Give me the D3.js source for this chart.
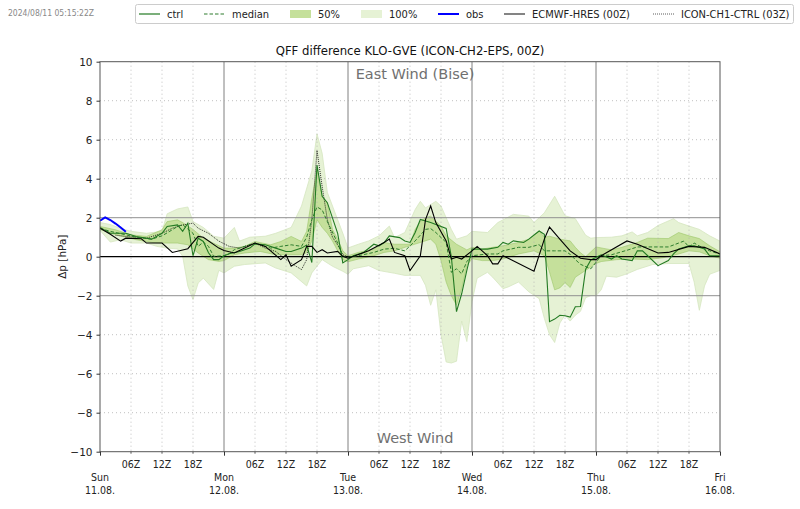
<!DOCTYPE html>
<html><head><meta charset="utf-8">
<script src="https://cdn.jsdelivr.net/npm/d3@7/dist/d3.min.js"></script>
<style>body{margin:0;background:#fff}</style>
</head><body>
<svg id="c" width="800" height="509"></svg>
<script>
// ---------- data ----------
const hourDomain = [0, 120];
const yDomain = [-10, 10];
const yTicks = [-10, -8, -6, -4, -2, 0, 2, 4, 6, 8, 10];
const dayTicks = [0, 24, 48, 72, 96, 120];
const dayNames = ["Sun", "Mon", "Tue", "Wed", "Thu", "Fri"];
const dayDates = ["11.08.", "12.08.", "13.08.", "14.08.", "15.08.", "16.08."];
const hourNames = ["06Z", "12Z", "18Z"];
const timestamp = "2024/08/11 05:15:22Z";
const title = "QFF difference KLO-GVE (ICON-CH2-EPS, 00Z)";

const obs = [[0,1.85],[1,2.02],[2,1.88],[3,1.7],[4,1.5],[5,1.28]];

const ensMax = [[0,1.75],[2,1.65],[4,1.45],[6,1.3],[9,1.2],[12,1.3],[13,2.2],[15,2.45],[17,2.55],[18,1.8],[20,1.5],[22,1.05],[24,0.95],[26,1.5],[27,0.8],[29,1.0],[32,1.05],[34,1.2],[37,1.5],[39,2.6],[41,4.4],[42,6.3],[43,5.3],[44,3.3],[46,1.9],[47,1.2],[48,0.45],[50,0.64],[52,0.81],[54,1.07],[56,1.57],[57,0.98],[59,1.24],[61,2.42],[62,2.84],[63,2.5],[65,2.84],[66,2.6],[68,1.4],[69,0.9],[71,1.07],[72,1.3],[75,1.24],[77,1.75],[80,2.17],[83,2.08],[84,1.75],[86,2.25],[88,3.1],[89,2.6],[90,2.1],[92,1.95],[94,1.1],[95,0.95],[96,0.98],[99,1.0],[101,1.07],[103,1.27],[104,1.07],[106,1.24],[108,1.6],[111,1.95],[112,1.75],[114,1.57],[116,1.4],[118,1.07],[120,0.8]];

const ensMin = [[0,1.35],[2,0.75],[4,0.87],[6,0.7],[9,0.7],[11,0.53],[13,0.44],[15,0.4],[16,0.02],[17,-1.5],[18,-2.2],[19,-1.35],[20,-1.1],[22,-1.68],[23,-0.7],[24,-0.83],[26,-0.49],[28,-0.4],[32,-0.32],[34,-0.58],[37,-0.83],[40,-1.5],[41,-0.83],[43,-0.15],[45,-0.49],[47,-0.75],[48,-0.9],[49,-0.62],[52,-0.46],[54,-0.71],[57,-0.85],[59,-0.96],[62,-0.96],[63,-1.47],[64,-2.49],[65,-1.7],[66,-4.0],[67,-5.4],[68,-5.45],[69,-5.36],[70,-3.3],[71,-4.35],[72,-2.3],[73,-1.1],[75,-0.8],[76,-1.05],[78,-1.64],[79,-1.55],[81,-1.3],[83,-1.8],[85,-2.15],[86,-3.16],[87,-4.0],[88,-4.4],[89,-3.4],[90,-3.0],[91,-3.3],[92,-3.0],[93,-2.8],[94,-2.1],[95,-2.0],[96,-2.0],[97,-1.7],[98,-1.0],[100,-1.05],[102,-0.88],[104,-0.65],[107,-0.4],[110,-0.35],[114,-0.35],[115,-1.3],[116,-2.75],[117,-1.5],[118,-0.9],[120,-0.7]];

const ensP75 = [[0,1.55],[3,1.38],[6,1.12],[9,1.04],[12,1.38],[13,1.8],[15,1.89],[16,1.75],[18,1.4],[20,0.95],[22,0.69],[24,0.44],[26,0.44],[28,0.53],[30,0.78],[33,0.61],[35,0.78],[37,1.04],[39,0.78],[40,1.3],[41,3.0],[42,4.4],[43,3.1],[44,2.75],[45,1.4],[46,0.9],[47,0.3],[48,0.05],[50,0.22],[53,0.39],[55,0.73],[57,0.64],[60,0.64],[61,1.4],[62,1.8],[63,2.0],[64,2.08],[66,1.57],[67,1.07],[69,0.64],[71,0.35],[72,0.48],[74,0.39],[76,0.48],[78,0.56],[81,0.73],[83,0.9],[85,1.32],[86,1.0],[87,1.05],[89,0.9],[91,0.81],[92,0.48],[93,0.2],[94,0.0],[96,0.5],[99,0.35],[101,0.48],[104,0.73],[106,0.95],[110,0.93],[112,1.24],[114,1.07],[116,0.93],[118,0.56],[120,0.25]];

const ensP25 = [[0,1.4],[2,1.2],[5,1.0],[7,0.87],[10,0.73],[12,0.7],[15,0.7],[17,0.61],[19,0.19],[21,-0.15],[23,-0.24],[24,-0.2],[26,0.1],[28,0.19],[31,0.27],[34,0.1],[39,0.1],[40,0.2],[41,0.8],[42,1.9],[43,1.5],[44,1.2],[45,0.8],[46,0.3],[47,-0.15],[48,-0.26],[50,-0.12],[53,0.05],[55,0.22],[57,0.3],[59,0.48],[62,0.73],[64,0.9],[65,0.64],[66,-0.2],[67,-1.3],[68,-2.0],[69,-2.49],[70,-1.64],[71,-0.46],[72,-0.1],[74,-0.2],[76,-0.2],[78,-0.12],[81,0.14],[84,0.3],[86,0.05],[87,-0.79],[88,-1.7],[89,-1.6],[90,-1.33],[91,-1.58],[92,-1.05],[94,-0.7],[96,-0.35],[97,-0.25],[100,-0.15],[103,-0.12],[106,-0.15],[109,-0.05],[112,0.14],[114,0.3],[116,0.25],[118,0.05],[120,-0.08]];

const median = [[0,1.45],[2,1.3],[5,1.12],[7,1.0],[10,0.9],[12,1.07],[14,1.38],[15,1.55],[16,1.64],[18,1.2],[19,0.53],[20,0.75],[21,0.53],[22,0.02],[24,0.05],[25,0.15],[26,0.36],[29,0.61],[30,0.7],[33,0.44],[35,0.53],[37,0.61],[39,0.53],[40,1.0],[41,1.9],[42,2.55],[43,2.4],[44,1.8],[46,0.7],[47,0.02],[48,-0.03],[50,0.05],[53,0.22],[55,0.39],[57,0.43],[59,0.3],[61,0.81],[63,1.4],[64,1.44],[65,1.24],[67,0.73],[68,-0.8],[69,-0.62],[70,-0.88],[71,-0.25],[72,0.05],[75,0.14],[77,0.14],[78,0.3],[81,0.48],[83,0.48],[85,0.62],[86,0.3],[88,0.3],[90,0.3],[91,0.12],[92,-0.15],[93,-0.39],[95,-0.62],[97,0.05],[99,0.1],[102,0.33],[104,0.5],[107,0.5],[110,0.5],[112,0.7],[113,0.8],[114,0.5],[115,0.7],[116,0.55],[118,0.3],[120,0.13]];

const ctrl = [[0,1.5],[1,1.35],[2,1.2],[5,1.2],[7,1.04],[10,0.9],[12,1.2],[13,1.55],[15,1.63],[16,1.3],[17,1.72],[18,0.05],[19,0.95],[20,0.78],[21,0.2],[22,-0.15],[23,-0.15],[24,0.05],[25,0.15],[27,0.27],[29,0.44],[30,0.66],[32,0.61],[34,0.44],[36,0.27],[37,0.27],[39,0.44],[40,0.6],[41,-0.3],[42,4.7],[43,3.1],[44,2.77],[46,1.2],[47,-0.32],[48,-0.15],[49,0.05],[51,0.22],[53,0.64],[54,0.56],[55,0.73],[56,1.07],[58,0.98],[59,0.81],[60,0.73],[61,1.24],[62,1.91],[64,1.75],[67,1.45],[68,0.0],[69,-2.82],[70,-1.9],[71,-0.7],[72,0.39],[75,0.39],[77,0.48],[78,0.73],[79,0.64],[80,0.81],[82,0.73],[83,0.9],[85,1.32],[86,1.15],[87,-3.33],[88,-3.2],[89,-3.0],[90,-3.03],[91,-3.1],[92,-2.57],[93,-2.55],[94,-0.64],[95,-0.17],[97,0.1],[99,-0.12],[100,0.05],[101,-0.12],[103,-0.2],[104,0.3],[105,0.3],[106,0.05],[108,-0.46],[110,-0.2],[111,0.14],[112,0.39],[114,0.56],[115,0.56],[117,0.39],[118,0.05],[120,0.05]];

const hres = [[0,1.46],[2,1.15],[4,0.8],[5,0.95],[8,0.92],[9,0.7],[12,0.7],[14,0.22],[17,0.41],[19,1.04],[20,1.0],[23,0.44],[24,0.32],[26,0.19],[28,0.44],[30,0.7],[32,0.53],[35,-0.15],[36,0.1],[37,-0.49],[39,-0.15],[40,0.53],[41,0.53],[42,0.22],[43,0.36],[44,0.19],[46,0.27],[47,0.02],[48,-0.08],[52,0.3],[55,0.73],[56,0.9],[57,0.22],[59,0.05],[60,-0.71],[62,0.05],[63,1.9],[64,2.6],[65,1.75],[67,0.81],[68,-0.12],[69,-0.03],[70,-0.12],[72,0.3],[73,0.53],[75,0.05],[76,-0.37],[77,-0.37],[78,0.05],[84,-0.74],[86,0.9],[87,1.52],[89,0.9],[91,0.3],[93,-0.08],[95,-0.15],[96,-0.15],[97,0.05],[102,0.81],[104,0.64],[108,0.19],[110,0.22],[114,0.53],[117,0.48],[120,0.14]];

const ch1 = [[3,1.1],[5,1.04],[9,0.95],[12,1.2],[14,1.46],[16,1.63],[18,1.72],[19,1.46],[21,1.2],[23,0.8],[25,0.53],[27,0.44],[30,0.7],[32,0.44],[34,0.27],[36,-0.15],[38,-0.5],[39,-0.66],[40,-0.15],[41,1.9],[42,5.45],[43,3.6],[44,1.9],[45,1.0],[46,0.6],[47,0.1],[48,0.0]];

const legendItems = ["ctrl","median","50%","100%","obs","ECMWF-HRES (00Z)","ICON-CH1-CTRL (03Z)"];

// ---------- drawing ----------
const COND = "'DejaVu Sans Condensed','DejaVu Sans',sans-serif";
const REG = "'DejaVu Sans',sans-serif";
const C = {ctrl:"#237a23", median:"#2e7d2e", p50:"#c5e09b", p100:"#e6f2d5", obs:"#0000ff", hres:"#000", ch1:"#000"};

const svg = d3.select("#c");
svg.append("rect").attr("width",800).attr("height",509).attr("fill","#fff");
const L = 100, R = 720, T = 61.7, B = 451.7;
const x = d3.scaleLinear().domain(hourDomain).range([L, R]);
const y = d3.scaleLinear().domain(yDomain).range([B, T]);

const g = svg.append("g");
const clip = svg.append("clipPath").attr("id","pc").append("rect").attr("x",L).attr("y",T).attr("width",R-L).attr("height",B-T);

const line = d3.line().x(d=>x(d[0])).y(d=>y(d[1]));
function band(up, lo){ return line(up.concat(lo.slice().reverse())) + "Z"; }

const pg = g.append("g").attr("clip-path","url(#pc)");
pg.append("path").attr("d", band(ensMax, ensMin)).attr("fill", C.p100).attr("stroke","#d5e6c0").attr("stroke-width",0.8);
pg.append("path").attr("d", band(ensP75, ensP25)).attr("fill", C.p50).attr("stroke","#9cc66a").attr("stroke-width",0.6);

// grid
const sixH = d3.range(6, 120, 6).filter(h => h % 24 !== 0);
pg.selectAll(".vg").data(sixH).join("line").attr("x1",d=>x(d)).attr("x2",d=>x(d)).attr("y1",T).attr("y2",B)
  .attr("stroke","#b0b0b0").attr("stroke-width",0.8).attr("stroke-dasharray","1,3");
pg.selectAll(".vd").data(dayTicks.slice(1,-1)).join("line").attr("x1",d=>x(d)).attr("x2",d=>x(d)).attr("y1",T).attr("y2",B)
  .attr("stroke","#808080").attr("stroke-width",1);
pg.selectAll(".hg").data(yTicks.filter(v=>Math.abs(v)>2 && Math.abs(v)<10)).join("line").attr("x1",L).attr("x2",R).attr("y1",d=>y(d)).attr("y2",d=>y(d))
  .attr("stroke","#b0b0b0").attr("stroke-width",0.8).attr("stroke-dasharray","1,3");
pg.selectAll(".hs").data([-2,2]).join("line").attr("x1",L).attr("x2",R).attr("y1",d=>y(d)).attr("y2",d=>y(d))
  .attr("stroke","#909090").attr("stroke-width",1);

// wind labels
g.append("text").attr("x",415).attr("y",79).attr("text-anchor","middle").attr("font-family",REG).attr("font-size",14.5).attr("fill","#707070").text("East Wind (Bise)");
g.append("text").attr("x",415).attr("y",443).attr("text-anchor","middle").attr("font-family",REG).attr("font-size",14.5).attr("fill","#707070").text("West Wind");

// zero line
pg.append("line").attr("x1",L).attr("x2",R).attr("y1",y(0)).attr("y2",y(0)).attr("stroke","#000").attr("stroke-width",1.3);

// lines
pg.append("path").attr("d",line(ch1)).attr("fill","none").attr("stroke",C.ch1).attr("stroke-width",0.8).attr("stroke-dasharray","1,1");
pg.append("path").attr("d",line(median)).attr("fill","none").attr("stroke",C.median).attr("stroke-width",1).attr("stroke-dasharray","3.5,2");
pg.append("path").attr("d",line(ctrl)).attr("fill","none").attr("stroke",C.ctrl).attr("stroke-width",1.1);
pg.append("path").attr("d",line(hres)).attr("fill","none").attr("stroke",C.hres).attr("stroke-width",1.1);
pg.append("path").attr("d",line(obs)).attr("fill","none").attr("stroke",C.obs).attr("stroke-width",2);

// frame
g.append("rect").attr("x",L).attr("y",T).attr("width",R-L).attr("height",B-T).attr("fill","none").attr("stroke","#555").attr("stroke-width",1);

// y axis
const yAx = g.append("g").attr("transform",`translate(${L},0)`).call(d3.axisLeft(y).tickValues(yTicks).tickSize(3.5).tickFormat(d=>d<0?"\u2212"+Math.abs(d):d));
yAx.select(".domain").remove();
yAx.selectAll(".tick line").attr("stroke","#333");
yAx.selectAll("text").attr("font-family",REG).attr("font-size",10.5).attr("fill","#222").attr("dx",-1);

g.append("text").attr("transform",`translate(66,${y(0)}) rotate(-90)`).attr("text-anchor","middle").attr("font-family",REG).attr("font-size",10.5).attr("fill","#222").text("\u0394p [hPa]");

// x axis
const minorHours = d3.range(0,120,6).filter(h=>h%24!==0);
const xAx = g.append("g").attr("transform",`translate(0,${B})`);
xAx.call(d3.axisBottom(x).tickValues(dayTicks).tickSize(4).tickFormat(""));
xAx.select(".domain").remove();
xAx.selectAll(".tick line").attr("stroke","#333");
xAx.selectAll(".mt").data(minorHours).join("line").attr("x1",d=>x(d)).attr("x2",d=>x(d)).attr("y1",0).attr("y2",2).attr("stroke","#555");
xAx.selectAll(".hl").data(minorHours).join("text").attr("x",d=>x(d)).attr("y",16).attr("text-anchor","middle")
  .attr("font-family",COND).attr("font-size",10.5).attr("fill","#222").text(d=>hourNames[(d%24)/6-1]);
xAx.selectAll(".dn").data(dayTicks).join("text").attr("x",d=>x(d)).attr("y",29.5).attr("text-anchor","middle")
  .attr("font-family",COND).attr("font-size",10.5).attr("fill","#222").text((d,i)=>dayNames[i]);
xAx.selectAll(".dd").data(dayTicks).join("text").attr("x",d=>x(d)).attr("y",42.5).attr("text-anchor","middle")
  .attr("font-family",COND).attr("font-size",10.5).attr("fill","#222").text((d,i)=>dayDates[i]);

// title
svg.append("text").attr("x",410).attr("y",55).attr("text-anchor","middle").attr("font-family",COND).attr("font-size",13).attr("fill","#111").text(title);
// timestamp
svg.append("text").attr("x",8).attr("y",16).attr("font-family",COND).attr("font-size",8.5).attr("fill","#888").text(timestamp);

// legend
const lg = svg.append("g");
lg.append("rect").attr("x",135.5).attr("y",4.5).attr("width",658).attr("height",19).attr("rx",2).attr("fill","#fff").attr("stroke","#ccc");
const lx = [139, 204, 290, 361, 438, 504, 653];
const ly = 14;
const sw = 21;
legendItems.forEach((t,i)=>{
  const x0 = lx[i];
  if (i===2 || i===3) {
    lg.append("rect").attr("x",x0).attr("y",ly-4).attr("width",sw).attr("height",8).attr("fill", i===2?C.p50:C.p100);
  } else {
    const st = [C.ctrl, C.median, null, null, C.obs, "#333", "#333"][i];
    const l = lg.append("line").attr("x1",x0).attr("x2",x0+sw).attr("y1",ly).attr("y2",ly).attr("stroke",st)
      .attr("stroke-width", i===4?2:(i===6?0.8:1.2));
    if (i===1) l.attr("stroke-dasharray","3.5,2");
    if (i===6) l.attr("stroke-dasharray","1,1");
  }
  lg.append("text").attr("x",x0+sw+7).attr("y",ly+4).attr("font-family",COND).attr("font-size",11).attr("fill","#222").text(t);
});
</script>
</body></html>
